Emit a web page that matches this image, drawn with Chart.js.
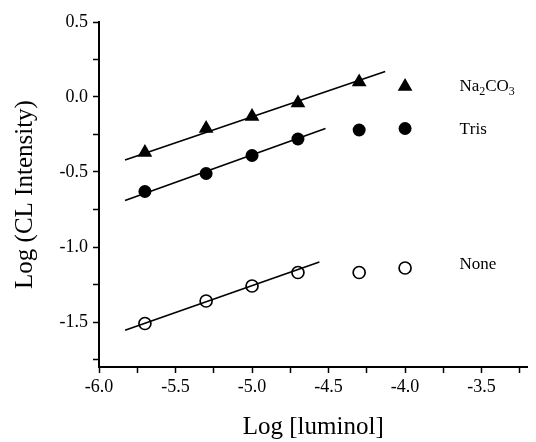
<!DOCTYPE html>
<html>
<head>
<meta charset="utf-8">
<script src="https://cdn.jsdelivr.net/npm/chart.js@4.4.0/dist/chart.umd.min.js"></script>
<style>
  body { margin: 0; background: #ffffff; }
</style>
</head>
<body>
<canvas id="cl" width="536" height="442"></canvas>
<script>
// log of luminol concentration
const luminol = [-5.7, -5.3, -5.0, -4.7, -4.3, -4.0];

// log of CL intensity for each buffer
const na2co3 = [-0.37, -0.21, -0.13, -0.04, 0.10, 0.07];
const tris = [-0.63, -0.51, -0.39, -0.28, -0.22, -0.21];
const none = [-1.51, -1.36, -1.26, -1.17, -1.17, -1.14];

// linear fit segments (start, end)
const naFitX = [-5.83, -4.13];
const naFitY = [-0.42, 0.17];
const trisFitX = [-5.83, -4.52];
const trisFitY = [-0.69, -0.21];
const noneFitX = [-5.83, -4.56];
const noneFitY = [-1.555, -1.10];

// series names, drawn next to the last points
const seriesNames = ["Na2CO3", "Tris", "None"];
const nameY = [0.07, -0.22, -1.115];

function toPoints(xs, ys) {
  return xs.map((x, i) => ({ x: x, y: ys[i] }));
}

const FONT = "'Liberation Serif', 'Times New Roman', serif";
Chart.defaults.font.family = FONT;
Chart.defaults.color = "#000000";

// writes the series names, with subscripts for the digits in Na2CO3
const seriesLabels = {
  id: "seriesLabels",
  afterDatasetsDraw(chart) {
    const ctx = chart.ctx;
    const xs = chart.scales.x;
    const ys = chart.scales.y;
    ctx.save();
    ctx.fillStyle = "#000";
    ctx.textBaseline = "middle";
    ctx.textAlign = "left";
    seriesNames.forEach((name, i) => {
      let px = xs.getPixelForValue(-3.645);
      const py = ys.getPixelForValue(nameY[i]);
      for (const ch of name) {
        if (/[0-9]/.test(ch)) {
          ctx.font = "12px " + FONT;
          ctx.fillText(ch, px, py + 5);
        } else {
          ctx.font = "17px " + FONT;
          ctx.fillText(ch, px, py);
        }
        px += ctx.measureText(ch).width;
      }
    });
    ctx.restore();
  }
};

const fitLine = (xs, ys) => ({
  data: toPoints(xs, ys),
  showLine: true,
  borderColor: "#000",
  borderWidth: 1.7,
  pointRadius: 0,
  fill: false
});

const tickLabel = (v) => (Math.abs(v * 2 - Math.round(v * 2)) < 1e-6 ? v.toFixed(1) : "");

const ctxL = document.getElementById("cl").getContext("2d");
const chart = new Chart(ctxL, {
  type: "scatter",
  data: {
    datasets: [
      fitLine(naFitX, naFitY),
      fitLine(trisFitX, trisFitY),
      fitLine(noneFitX, noneFitY),
      {
        label: "Na2CO3",
        data: toPoints(luminol, na2co3),
        pointStyle: "triangle",
        pointRadius: 8.5,
        backgroundColor: "#000",
        borderColor: "#000",
        borderWidth: 0
      },
      {
        label: "Tris",
        data: toPoints(luminol, tris),
        pointStyle: "circle",
        pointRadius: 6.5,
        backgroundColor: "#000",
        borderColor: "#000",
        borderWidth: 0
      },
      {
        label: "None",
        data: toPoints(luminol, none),
        pointStyle: "circle",
        pointRadius: 6,
        backgroundColor: "#fff",
        borderColor: "#000",
        borderWidth: 1.7
      }
    ]
  },
  options: {
    responsive: false,
    animation: false,
    events: [],
    layout: { padding: { top: 22, right: 0, left: 0, bottom: 0 } },
    plugins: {
      legend: { display: false },
      tooltip: { enabled: false }
    },
    scales: {
      x: {
        type: "linear",
        min: -6.0,
        max: -3.2,
        afterFit: (s) => { s.height = 75; },
        border: { display: true, color: "#000", width: 2 },
        grid: {
          drawOnChartArea: false,
          drawTicks: true,
          tickLength: 6,
          tickColor: "#000",
          tickWidth: 1.5
        },
        ticks: {
          stepSize: 0.25,
          includeBounds: false,
          padding: 3,
          maxRotation: 0,
          autoSkip: false,
          font: { size: 18 },
          callback: tickLabel
        },
        title: {
          display: true,
          text: "Log [luminol]",
          font: { size: 25 },
          padding: { top: 0, bottom: 0 }
        }
      },
      y: {
        type: "linear",
        min: -1.8,
        max: 0.5,
        afterFit: (s) => { s.width = 99; },
        border: { display: true, color: "#000", width: 2 },
        grid: {
          drawOnChartArea: false,
          drawTicks: true,
          tickLength: 6,
          tickColor: "#000",
          tickWidth: 1.5
        },
        ticks: {
          stepSize: 0.25,
          includeBounds: false,
          padding: 5,
          autoSkip: false,
          font: { size: 18 },
          callback: tickLabel
        },
        title: {
          display: true,
          text: "Log (CL Intensity)",
          font: { size: 25 },
          padding: { top: 10, bottom: 0 }
        }
      }
    }
  },
  plugins: [seriesLabels]
});
</script>
</body>
</html>
